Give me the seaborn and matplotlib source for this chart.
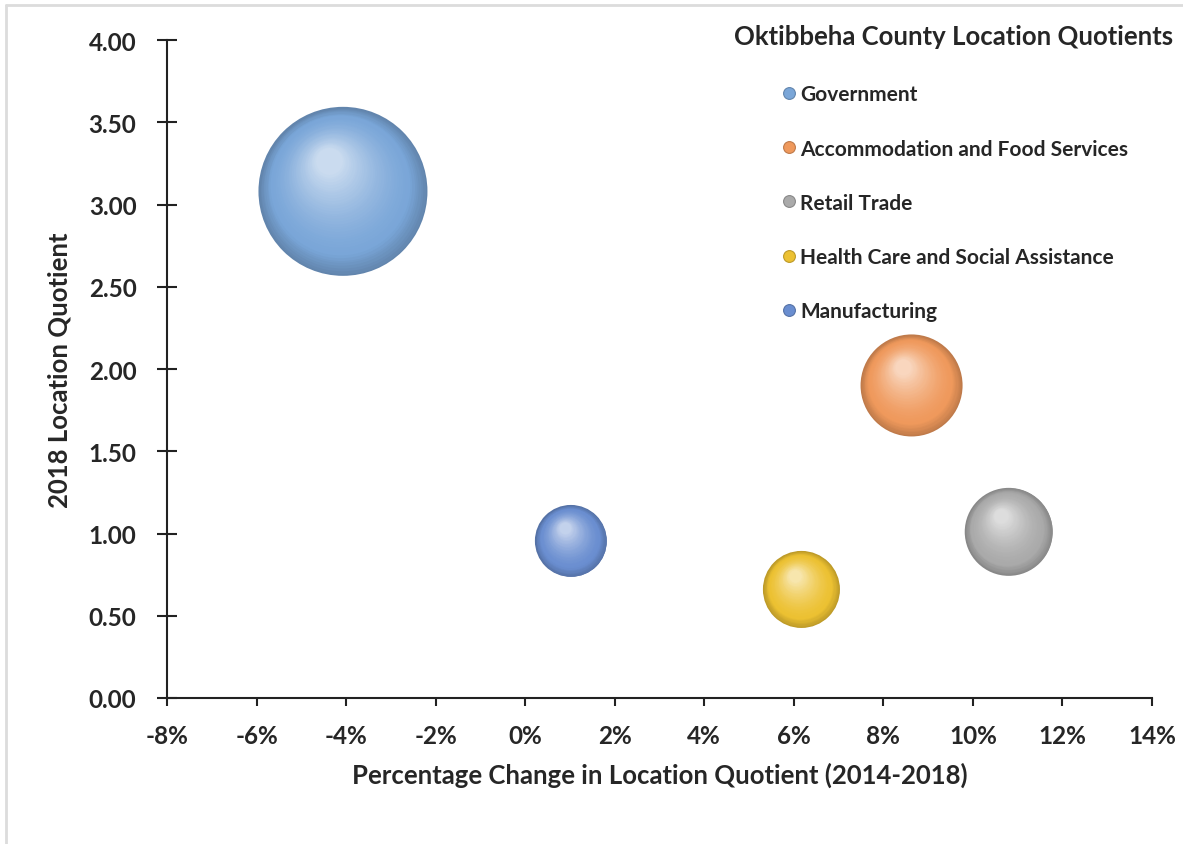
import numpy as np
import pandas as pd
import matplotlib
matplotlib.use("Agg")
import matplotlib.pyplot as plt
import seaborn as sns
from matplotlib.transforms import ScaledTranslation
from matplotlib.lines import Line2D
from matplotlib.ticker import PercentFormatter, FormatStrFormatter
import matplotlib.colors as mcolors

# ---------------- data ----------------
industries = ["Government", "Accommodation and Food Services", "Retail Trade",
              "Health Care and Social Assistance", "Manufacturing"]
pct_change = [-0.0407, 0.0863, 0.1080, 0.0617, 0.0102]   # 2014-2018 change in LQ
lq_2018 = [3.08, 1.90, 1.01, 0.66, 0.955]
employment = [9000, 3280, 2440, 1870, 1630]              # bubble size (estimated)
colors = ["#7aa6d8", "#ef995c", "#aaaaaa", "#ecc132", "#6a8ed0"]
x_ticks = [-0.08, -0.06, -0.04, -0.02, 0.0, 0.02, 0.04, 0.06, 0.08, 0.10, 0.12, 0.14]
y_ticks = [0.0, 0.5, 1.0, 1.5, 2.0, 2.5, 3.0, 3.5, 4.0]

df = pd.DataFrame({"Industry": industries, "Change": pct_change,
                   "LQ": lq_2018, "Employment": employment})

# ---------------- style ----------------
sns.set_style("white")
plt.rcParams["font.family"] = ["Lato", "DejaVu Sans"]
plt.rcParams["font.weight"] = "bold"
plt.rcParams["axes.unicode_minus"] = False

W, H, DPI = 1183, 845, 100
fig = plt.figure(figsize=(W / DPI, H / DPI), dpi=DPI)
ax = fig.add_axes([167 / W, 1 - 699 / H, (1152 - 167) / W, (699 - 41) / H])

S_MAX = (169 * 0.72) ** 2  # area in pt^2 of largest bubble
vmax = max(employment)
palette = dict(zip(industries, colors))

# base bubbles via seaborn (dark rim layer)
dark_pal = {k: tuple(np.array(mcolors.to_rgb(v)) * 0.80) for k, v in palette.items()}
sns.scatterplot(data=df, x="Change", y="LQ", hue="Industry", palette=dark_pal,
                size="Employment", sizes=(0, S_MAX), size_norm=(0, vmax),
                linewidth=0, legend=False, ax=ax, zorder=2)


def shade(base, t):
    b = np.array(mcolors.to_rgb(base))
    dark = b * 0.80
    light = b + (1 - b) * 0.6
    if t < 0.2:
        u = t / 0.2
        return tuple(dark + (b - dark) * u)
    u = (t - 0.2) / 0.8
    return tuple(b + (light - b) * u ** 1.5)


n = 40
for xi, yi, vi, ci in zip(pct_change, lq_2018, employment, colors):
    s = vi / vmax * S_MAX
    R = np.sqrt(s) / 2.0
    for k in range(1, n):
        t = k / (n - 1)
        r = R * (1 - 0.84 * t)
        dx, dy = -0.17 * R * t, 0.36 * R * t
        tr = ax.transData + ScaledTranslation(dx / 72, dy / 72, fig.dpi_scale_trans)
        ax.scatter([xi], [yi], s=(2 * r) ** 2, color=shade(ci, t), linewidths=0,
                   transform=tr, zorder=2 + k * 0.001)

# ---------------- axes ----------------
ax.set_xlim(-0.08, 0.14)
ax.set_ylim(0, 4.0)
ax.set_xticks(x_ticks)
ax.set_yticks(y_ticks)
ax.xaxis.set_major_formatter(PercentFormatter(xmax=1.0, decimals=0))
ax.yaxis.set_major_formatter(FormatStrFormatter("%.2f"))
for side in ["top", "right"]:
    ax.spines[side].set_visible(False)
for side in ["left", "bottom"]:
    ax.spines[side].set_color("#222222")
    ax.spines[side].set_linewidth(1.5)
ax.tick_params(axis="y", direction="inout", length=14, width=1.5, color="#222222",
               labelsize=17.5, pad=15, left=True)
ax.tick_params(axis="x", direction="out", length=6, width=1.5, color="#222222",
               labelsize=17.5, pad=13, bottom=True)
for lab in ax.get_xticklabels() + ax.get_yticklabels():
    lab.set_fontweight("bold")
ax.set_xlabel("Percentage Change in Location Quotient (2014-2018)", fontsize=18.5,
              fontweight="bold", labelpad=10)
ax.set_ylabel("2018 Location Quotient", fontsize=18.5, fontweight="bold", labelpad=12)

# ---------------- legend ----------------
handles = [Line2D([0], [0], marker="o", linestyle="none", markersize=8.5,
                  markerfacecolor=c, markeredgecolor=tuple(np.array(mcolors.to_rgb(c)) * 0.8),
                  markeredgewidth=0.8) for c in colors]
leg = ax.legend(handles, industries, loc="upper left",
                bbox_to_anchor=(726 / W, 1 - 17 / H), bbox_transform=fig.transFigure,
                frameon=False, title="Oktibbeha County Location Quotients",
                prop={"size": 15, "weight": "bold"}, labelspacing=1.64,
                handletextpad=0.1, handlelength=0.9, borderaxespad=0)
leg.get_title().set_fontsize(18.5)
leg.get_title().set_fontweight("bold")
leg._legend_box.sep = 26

# light frame
fig.add_artist(Line2D([6 / W, 1], [1 - 6 / H, 1 - 6 / H], transform=fig.transFigure,
                      color="#dcdcdc", lw=2))
fig.add_artist(Line2D([6 / W, 6 / W], [0, 1 - 6 / H], transform=fig.transFigure,
                      color="#dcdcdc", lw=2))

fig.savefig("out.png", dpi=DPI)
